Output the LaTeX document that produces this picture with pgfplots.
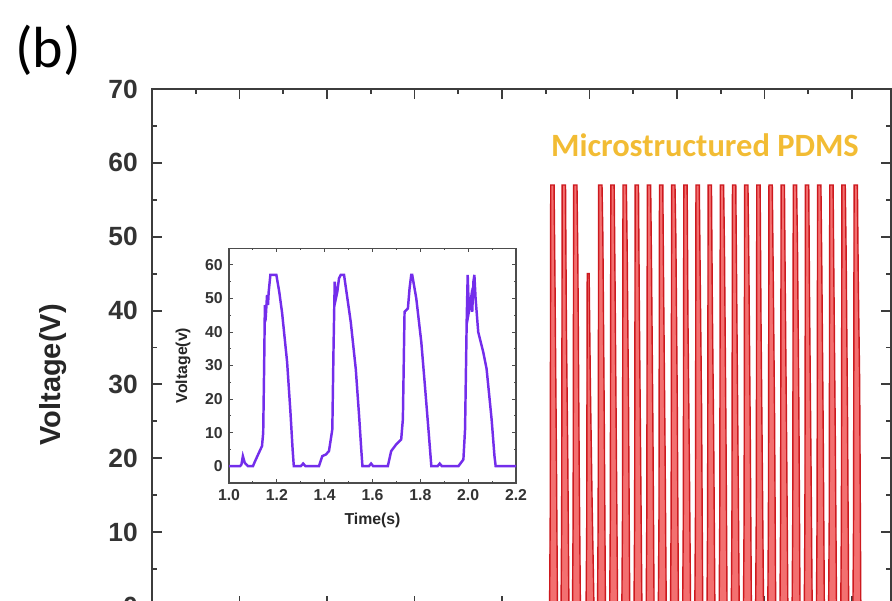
\documentclass[border=0pt]{standalone}
\usepackage{pgfplots}
\pgfplotsset{compat=1.18}
\usepackage{fontspec}
\setmainfont{Liberation Sans}
\newfontfamily\calibri{Carlito}
\definecolor{axisgray}{RGB}{60,60,60}
\definecolor{spikefill}{RGB}{243,112,112}
\definecolor{spikeline}{RGB}{205,25,30}
\definecolor{pdmsgold}{RGB}{242,188,52}
\definecolor{insetpurple}{RGB}{115,45,235}

\begin{document}
\begin{tikzpicture}
\useasboundingbox (0,0) rectangle (17.84,-12);
\clip (0,0) rectangle (17.84,-12);
\node[font=\calibri\fontsize{33}{33}\selectfont] at (0.96,-1.0) {(b)};

% main signal
\begin{axis}[
  at={(3.04cm,-12.12cm)}, anchor=south west,
  width=14.78cm, height=10.34cm, scale only axis,
  xmin=0, xmax=8.446, ymin=0, ymax=70,
  xtick distance=1, ytick distance=10, minor tick num=1,
  xticklabel=\empty,
  axis line style={axisgray, line width=1.2pt},
  every tick/.style={axisgray, line width=1.1pt},
  major tick length=0.2cm, minor tick length=0.1cm,
  tick label style={font=\fontsize{15}{15}\selectfont\bfseries, text=black!80},
  yticklabel style={xshift=-0.16cm},
  /pgf/number format/assume math mode=true,
  ylabel={Voltage(V)},
  ylabel style={at={(axis description cs:-0.134,0.447)}, anchor=center,
    font=\fontsize{16.5}{16.5}\selectfont\bfseries, text=black!85},
]
  \addplot[draw=spikeline, fill=spikefill, line width=0.8pt] coordinates {
    (4.544,0) (4.551,12) (4.557,57) (4.595,57) (4.605,45) (4.621,22) (4.634,0)
    (4.675,0) (4.682,12) (4.688,57) (4.726,57) (4.736,38) (4.752,20) (4.765,0)
    (4.806,0) (4.813,12) (4.819,57) (4.857,57) (4.867,47) (4.883,18) (4.896,0)
    (4.961,0) (4.968,10) (4.974,45) (4.996,45) (5.010,30) (5.030,14) (5.051,0)
    (5.092,0) (5.099,12) (5.105,57) (5.143,57) (5.153,50) (5.169,25) (5.182,0)
    (5.231,0) (5.238,12) (5.244,57) (5.282,57) (5.292,44) (5.308,20) (5.321,0)
    (5.370,0) (5.377,12) (5.383,57) (5.421,57) (5.431,48) (5.447,26) (5.460,0)
    (5.509,0) (5.516,12) (5.522,57) (5.560,57) (5.570,40) (5.586,18) (5.599,0)
    (5.648,0) (5.655,12) (5.661,57) (5.699,57) (5.709,46) (5.725,24) (5.738,0)
    (5.787,0) (5.794,12) (5.800,57) (5.838,57) (5.848,42) (5.864,21) (5.877,0)
    (5.926,0) (5.933,12) (5.939,57) (5.977,57) (5.987,50) (6.003,28) (6.016,0)
    (6.065,0) (6.072,12) (6.078,57) (6.116,57) (6.126,38) (6.142,19) (6.155,0)
    (6.204,0) (6.211,12) (6.217,57) (6.255,57) (6.265,45) (6.281,27) (6.294,0)
    (6.343,0) (6.350,12) (6.356,57) (6.394,57) (6.404,41) (6.420,22) (6.433,0)
    (6.482,0) (6.489,12) (6.495,57) (6.533,57) (6.543,48) (6.559,25) (6.572,0)
    (6.621,0) (6.628,12) (6.634,57) (6.672,57) (6.682,43) (6.698,20) (6.711,0)
    (6.760,0) (6.767,12) (6.773,57) (6.811,57) (6.821,47) (6.837,24) (6.850,0)
    (6.899,0) (6.906,12) (6.912,57) (6.950,57) (6.960,39) (6.976,18) (6.989,0)
    (7.038,0) (7.045,12) (7.051,57) (7.089,57) (7.099,46) (7.115,26) (7.128,0)
    (7.177,0) (7.184,12) (7.190,57) (7.228,57) (7.238,42) (7.254,21) (7.267,0)
    (7.316,0) (7.323,12) (7.329,57) (7.367,57) (7.377,49) (7.393,27) (7.406,0)
    (7.455,0) (7.462,12) (7.468,57) (7.506,57) (7.516,40) (7.532,19) (7.545,0)
    (7.594,0) (7.601,12) (7.607,57) (7.645,57) (7.655,46) (7.671,24) (7.684,0)
    (7.733,0) (7.740,12) (7.746,57) (7.784,57) (7.794,43) (7.810,22) (7.823,0)
    (7.872,0) (7.879,12) (7.885,57) (7.923,57) (7.933,48) (7.949,26) (7.962,0)
    (8.011,0) (8.018,12) (8.024,57) (8.062,57) (8.072,44) (8.088,30) (8.101,0)
  } \closedcycle;
  \node[font=\calibri\fontsize{18.5}{18.5}\selectfont\bfseries, text=pdmsgold]
    at (axis cs:6.32,62.4) {Microstructured PDMS};
\end{axis}

% inset
\begin{axis}[
  at={(4.58cm,-9.66cm)}, anchor=south west,
  width=5.74cm, height=4.70cm, scale only axis,
  xmin=1, xmax=2.2, ymin=-5, ymax=65,
  xtick distance=0.2, ytick distance=10, minor tick num=1,
  axis line style={gray!60!black, line width=0.6pt},
  every tick/.style={gray!60!black, line width=0.5pt},
  major tick length=0.08cm, minor tick length=0.04cm,
  tick label style={font=\fontsize{9}{9}\selectfont\bfseries, text=black!80},
  xticklabel style={/pgf/number format/.cd, fixed, fixed zerofill, precision=1},
  /pgf/number format/assume math mode=true,
  xlabel={Time(s)}, ylabel={Voltage(v)},
  label style={font=\fontsize{9}{9}\selectfont\bfseries, text=black!85},
  xlabel style={at={(axis description cs:0.5,-0.16)}, anchor=center},
  ylabel style={at={(axis description cs:-0.16,0.5)}, anchor=center},
]
  \addplot[insetpurple, line width=1.4pt] coordinates {
    (1.000,0) (1.046,0) (1.052,0.5) (1.058,3) (1.066,1) (1.080,0) (1.100,0)
    (1.109,1.5) (1.125,4) (1.138,6) (1.143,10) (1.147,30) (1.150,48) (1.155,46)
    (1.159,51) (1.163,48) (1.166,52) (1.173,57) (1.198,57) (1.210,52) (1.222,45.7)
    (1.243,31) (1.257,16) (1.266,5) (1.271,0) (1.300,0) (1.310,0.8) (1.320,0)
    (1.376,0) (1.390,3) (1.405,3.5) (1.418,4.5) (1.432,11) (1.437,35) (1.442,55)
    (1.447,50) (1.453,52) (1.460,56) (1.467,57) (1.481,57) (1.495,50) (1.509,43)
    (1.530,29) (1.544,15) (1.553,5) (1.558,0) (1.585,0) (1.594,0.8) (1.603,0)
    (1.664,0) (1.678,4.5) (1.699,6.5) (1.720,8) (1.727,14) (1.734,46) (1.748,47)
    (1.755,53) (1.762,57) (1.766,57) (1.783,50) (1.804,37) (1.818,25) (1.835,10)
    (1.846,0) (1.872,0) (1.881,0.8) (1.890,0) (1.959,0) (1.980,2) (1.987,11)
    (1.994,44) (1.998,57) (2.003,46) (2.008,48) (2.012,50) (2.017,46) (2.022,55)
    (2.026,57) (2.031,50) (2.042,40) (2.063,34) (2.077,29) (2.098,14) (2.110,3)
    (2.115,0) (2.200,0)
  };
\end{axis}
\end{tikzpicture}
\end{document}
